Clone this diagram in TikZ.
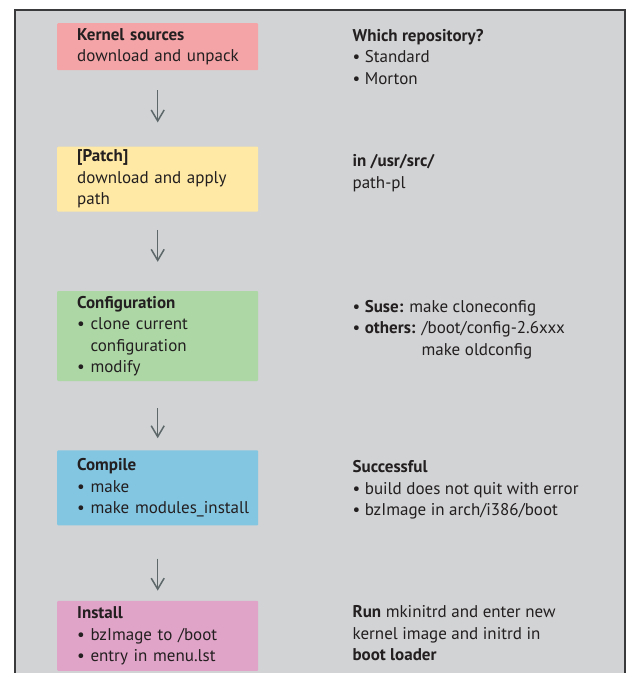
\documentclass[tikz,border=0pt]{standalone}
\usepackage{fontspec}
\setmainfont{PT Sans}
\usepackage{tikz}
\usetikzlibrary{positioning, arrows.meta}

\definecolor{panelgray}{HTML}{D1D3D4}
\definecolor{panelline}{HTML}{3A3A3C}
\definecolor{inkdark}{HTML}{231F20}
\definecolor{arrowgray}{HTML}{5D6769}
\definecolor{kernelpink}{HTML}{F4A4A7}
\definecolor{patchyellow}{HTML}{FFE9A5}
\definecolor{configgreen}{HTML}{ADD8A6}
\definecolor{compileblue}{HTML}{83C6E2}
\definecolor{installpink}{HTML}{E0A4C8}

\newcommand{\bul}{\textbullet\ }

\begin{document}
\begin{tikzpicture}[x=1pt, y=1pt, font=\fontsize{17}{21.5}\selectfont, text=inkdark]
    % Define styles for the nodes
    \tikzstyle{stepbox} = [
        rectangle, rounded corners=1pt, align=left,
        text width=161pt, inner xsep=20pt, inner ysep=0pt
    ]

    \tikzstyle{note} = [inner sep=0pt, align=left]

    \tikzstyle{flow} = [
        line width=1.5pt, draw=arrowgray,
        -{Straight Barb[length=11pt, width=13pt]}
    ]

    % Background panel
    \useasboundingbox (0,0) rectangle (628,-673);
    \fill[panelgray] (15,-10) rectangle (625,-673);
    \draw[panelline, line width=1.5pt] (15,-673) -- (15,-10) -- (625,-10) -- (625,-673);

    % Steps
    \node[stepbox, fill=kernelpink, minimum height=47pt, anchor=north west]
        (kernel) at (57,-23) {\textbf{Kernel sources}\\\mbox{download and unpack}};
    \node[stepbox, fill=patchyellow, minimum height=65pt, below=76pt of kernel]
        (patch) {\textbf{[Patch]}\\\mbox{download and apply}\\path};
    \node[stepbox, fill=configgreen, minimum height=90pt, below=79pt of patch]
        (config) {\textbf{Configuration}\\\bul clone current\\\hphantom{\bul}configuration\\\bul modify};
    \node[stepbox, fill=compileblue, minimum height=75pt, below=69pt of config]
        (compile) {\textbf{Compile}\\\bul make\\\mbox{\bul make modules\_install}};
    \node[stepbox, fill=installpink, minimum height=70pt, below=75pt of compile]
        (install) {\textbf{Install}\\\bul bzImage to /boot\\\bul entry in menu.lst};

    % Notes
    \node[note, right=94pt of kernel.north east, anchor=north west, yshift=-6pt]
        (repo) {\textbf{Which repository?}\\\bul Standard\\\bul Morton};
    \node[note, right=94pt of patch.north east, anchor=north west, yshift=-8pt]
        (patch_note) {\textbf{in /usr/src/}\\path-pl};
    \node[note, right=94pt of config.north east, anchor=north west, yshift=-9pt]
        (config_note) {\bul\textbf{Suse:} make cloneconfig\\\bul\textbf{others:} /boot/config-2.6xxx\\\hphantom{\bul\textbf{others:} }make oldconfig};
    \node[note, right=94pt of compile.north east, anchor=north west, yshift=-10pt]
        (compile_note) {\textbf{Successful}\\\bul build does not quit with error\\\bul bzImage in arch/i386/boot};
    \node[note, right=94pt of install.north east, anchor=north west, yshift=-5pt]
        (install_note) {\textbf{Run} mkinitrd and enter new\\kernel image and initrd in\\\textbf{boot loader}};

    % Arrows
    \draw[flow, shorten <=20pt, shorten >=24pt] (kernel.south) -- (patch.north);
    \draw[flow, shorten <=18pt, shorten >=29pt] (patch.south) -- (config.north);
    \draw[flow, shorten <=27pt, shorten >=12pt] (config.south) -- (compile.north);
    \draw[flow, shorten <=33pt, shorten >=10pt] (compile.south) -- (install.north);

\end{tikzpicture}
\end{document}
